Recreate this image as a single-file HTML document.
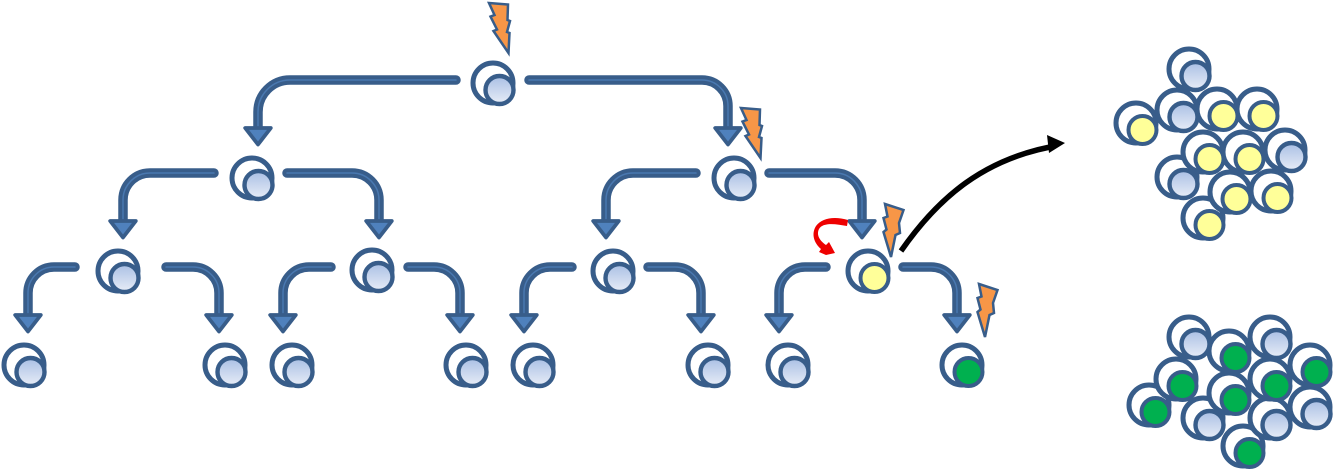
<!DOCTYPE html>
<html><head><meta charset="utf-8"><style>html,body{margin:0;padding:0;background:#fff}svg{display:block}</style></head>
<body>
<svg width="1334" height="469" viewBox="0 0 1334 469" xmlns="http://www.w3.org/2000/svg">
<defs>
<filter id="soft" filterUnits="userSpaceOnUse" x="0" y="0" width="1334" height="469"><feGaussianBlur stdDeviation="0.35"/></filter>
<linearGradient id="g" x1="0" y1="0" x2="0" y2="1"><stop offset="0" stop-color="#a9bfe4"/><stop offset="1" stop-color="#e8edf7"/></linearGradient>
<g id="c"><circle r="20" fill="#fff" stroke="#385d8a" stroke-width="5"/></g>
<g id="b"><use href="#c"/><circle cx="6.500" cy="7" r="14" fill="url(#g)" stroke="#385d8a" stroke-width="4.400"/></g>
<g id="y"><use href="#c"/><circle cx="6.500" cy="7" r="14" fill="#ffff99" stroke="#385d8a" stroke-width="4"/></g>
<g id="n"><use href="#c"/><circle cx="6.500" cy="7" r="14" fill="#00b050" stroke="#385d8a" stroke-width="4"/></g>
<polygon id="bolt" points="0,0 19,1.500 18.500,17 21,18 18,29 20.500,30 19.500,50 4.500,28 8,26.500 1.500,13.500 5.500,12" fill="#f79646" stroke="#385d8a" stroke-width="2.500"/>
<polygon id="bolt2" points="0,0 18.500,6 14,19 15,29 10.500,31 6,53 -1.500,28 1.500,25.500 -1.500,14 2.500,12.500" fill="#f79646" stroke="#385d8a" stroke-width="2.500"/>
<g id="h"><polygon points="-12.800,0 12.800,0 0,16.500" fill="#4f81bd" stroke="#385d8a" stroke-width="3.800" stroke-linejoin="round"/></g>
</defs>
<g filter="url(#soft)">
<g fill="none" stroke-linecap="round">
<g stroke="#385d8a" stroke-width="9.500">
<path d="M456 80H290A32 32 0 0 0 258 112V128"/>
<path d="M529 80H702A26 26 0 0 1 728 106V128"/>
<path d="M214 173H150A27 27 0 0 0 123 200V221"/>
<path d="M287 173H352A27 27 0 0 1 379 200V221"/>
<path d="M696 173H633A27 27 0 0 0 606 200V221"/>
<path d="M769 173H835A27 27 0 0 1 862 200V221"/>
<path d="M75 267H54A26 26 0 0 0 28 293V315"/>
<path d="M166 267H193A26 26 0 0 1 219 293V315"/>
<path d="M331 267H309A26 26 0 0 0 283 293V315"/>
<path d="M408 267H434A26 26 0 0 1 460 293V315"/>
<path d="M572 267H550A26 26 0 0 0 524 293V315"/>
<path d="M648 267H675A26 26 0 0 1 701 293V315"/>
<path d="M826 267H805A26 26 0 0 0 779 293V315"/>
<path d="M903 267H931A26 26 0 0 1 957 293V315"/>
</g>
<g stroke="#4a78b0" stroke-width="1.500">
<path d="M456 80H290A32 32 0 0 0 258 112V128"/>
<path d="M529 80H702A26 26 0 0 1 728 106V128"/>
<path d="M214 173H150A27 27 0 0 0 123 200V221"/>
<path d="M287 173H352A27 27 0 0 1 379 200V221"/>
<path d="M696 173H633A27 27 0 0 0 606 200V221"/>
<path d="M769 173H835A27 27 0 0 1 862 200V221"/>
<path d="M75 267H54A26 26 0 0 0 28 293V315"/>
<path d="M166 267H193A26 26 0 0 1 219 293V315"/>
<path d="M331 267H309A26 26 0 0 0 283 293V315"/>
<path d="M408 267H434A26 26 0 0 1 460 293V315"/>
<path d="M572 267H550A26 26 0 0 0 524 293V315"/>
<path d="M648 267H675A26 26 0 0 1 701 293V315"/>
<path d="M826 267H805A26 26 0 0 0 779 293V315"/>
<path d="M903 267H931A26 26 0 0 1 957 293V315"/>
</g>
</g>
<use href="#h" x="258" y="128"/><use href="#h" x="728" y="128"/>
<use href="#h" x="123" y="221"/><use href="#h" x="379" y="221"/><use href="#h" x="606" y="221"/><use href="#h" x="862" y="221"/>
<use href="#h" x="28" y="315"/><use href="#h" x="219" y="315"/><use href="#h" x="283" y="315"/><use href="#h" x="460" y="315"/><use href="#h" x="524" y="315"/><use href="#h" x="701" y="315"/><use href="#h" x="779" y="315"/><use href="#h" x="957" y="315"/>

<use href="#b" x="493" y="83"/>
<use href="#b" x="252" y="178"/><use href="#b" x="734" y="178"/>
<use href="#b" x="118" y="271"/><use href="#b" x="372" y="270"/><use href="#b" x="613" y="271"/><use href="#y" x="868" y="271"/>
<use href="#b" x="24" y="365"/><use href="#b" x="225" y="365"/><use href="#b" x="292" y="365"/><use href="#b" x="466" y="365"/><use href="#b" x="533" y="365"/><use href="#b" x="708" y="365"/><use href="#b" x="788" y="365"/><use href="#n" x="962" y="365"/>

<use href="#bolt" x="489" y="3"/><use href="#bolt" x="741" y="108"/>
<use href="#bolt2" x="885" y="204"/><use href="#bolt2" x="979" y="284"/>

<path d="M848 220C834 216 822 218 816 226C811 234 814 243 821 249L819 252L826 255L835 253L829 242L826 245C820 241 816 235 819 229C823 222 836 224 847 226Z" fill="#ee0000"/>

<path d="M901 251C940 195 985 160 1050 147" fill="none" stroke="#000" stroke-width="5.500"/>
<polygon points="1065,143 1047,135 1049,153" fill="#000"/>

<use href="#y" x="1203" y="218"/>
<use href="#y" x="1271" y="191"/>
<use href="#y" x="1230" y="192"/>
<use href="#b" x="1177" y="177"/>
<use href="#b" x="1285" y="150"/>
<use href="#y" x="1243" y="152"/>
<use href="#y" x="1203" y="152"/>
<use href="#y" x="1257" y="109"/>
<use href="#y" x="1217" y="109"/>
<use href="#y" x="1136" y="123"/>
<use href="#b" x="1177" y="110"/>
<use href="#b" x="1189" y="69"/>

<use href="#n" x="1243" y="446"/>
<use href="#b" x="1270" y="418"/>
<use href="#b" x="1203" y="418"/>
<use href="#b" x="1310" y="407"/>
<use href="#n" x="1149" y="405"/>
<use href="#n" x="1229" y="393"/>
<use href="#n" x="1270" y="379"/>
<use href="#n" x="1176" y="379"/>
<use href="#n" x="1310" y="365"/>
<use href="#n" x="1229" y="351"/>
<use href="#b" x="1270" y="337"/>
<use href="#b" x="1189" y="337"/>
</g>
</svg>
</body></html>
